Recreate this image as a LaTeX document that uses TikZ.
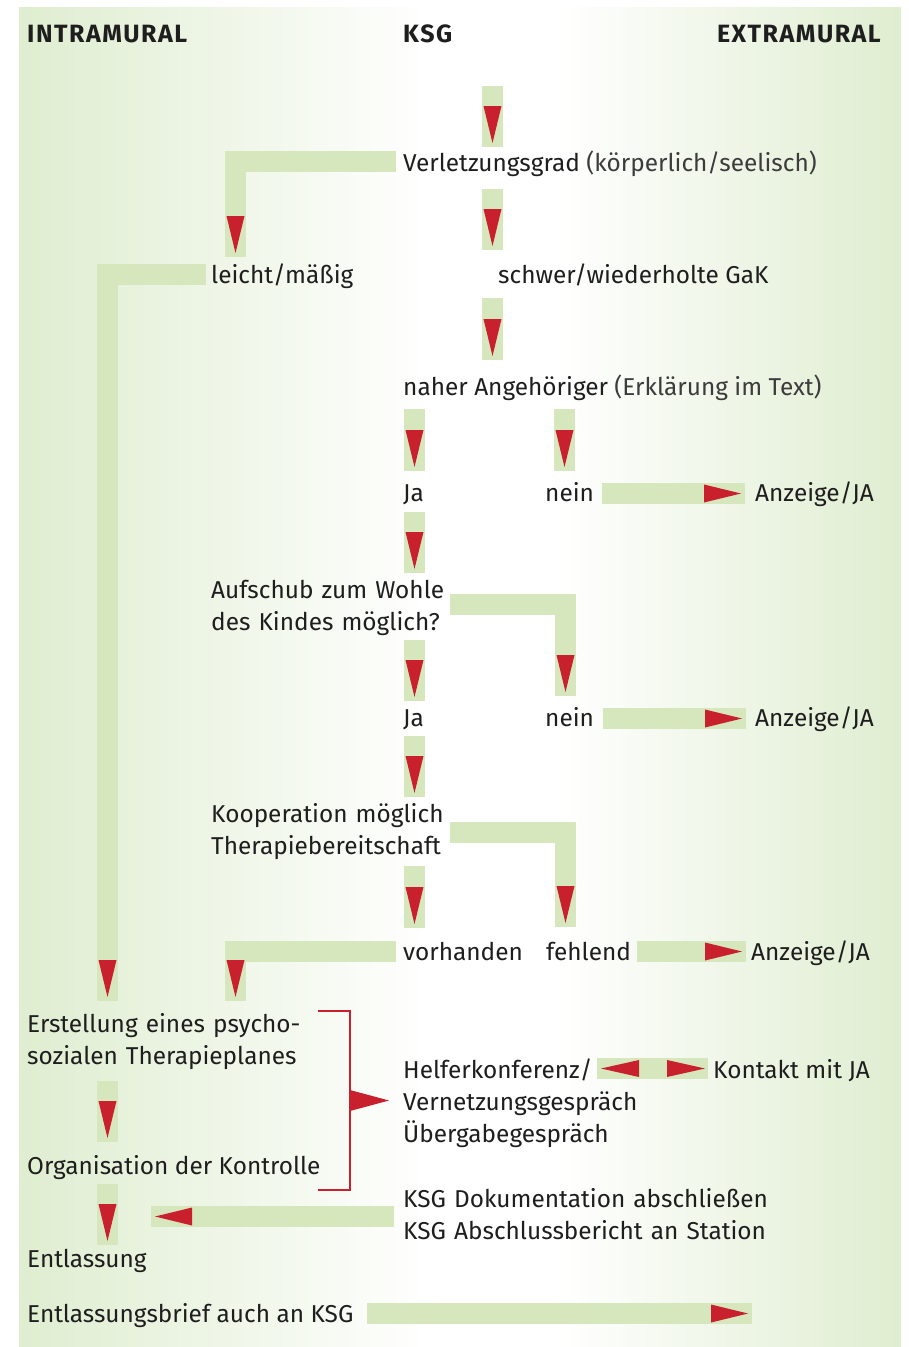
\documentclass[tikz,border=0pt]{standalone}
\usepackage{fontspec}
\setmainfont{Fira Sans}
\definecolor{bgg}{HTML}{DFEDD0}
\definecolor{barc}{HTML}{D6E7BD}
\definecolor{arr}{HTML}{C8202D}
\definecolor{txt}{HTML}{1E1E1E}
\definecolor{lt}{HTML}{3C3C3C}
\tikzset{
 lbl/.style={anchor=base west, inner sep=0pt, text=txt, font=\fontsize{24.4}{32}\selectfont},
 ml/.style={lbl, text width=500pt, align=left},
 hdr/.style={anchor=base west, inner sep=0pt, text=txt, font=\bfseries\fontsize{25}{30}\selectfont\addfontfeature{LetterSpace=6}},
 bar/.style={fill=barc},
 tipf/.style={fill=arr},
 brk/.style={draw=arr, line width=2pt},
}
% vertical bar with downward tip: name, xleft, ytop, ybot
\newcommand\vd[4]{%
 \fill[bar] (#2,#3) rectangle (#2+21,#4);
 \fill[tipf] (#2+1.5,#4-41) -- (#2+19.5,#4-41) -- (#2+10.5,#4-4) -- cycle;
 \coordinate (#1) at (#2+10.5,#4);}
% horizontal bar with right tip: name, xleft, xright, ytop
\newcommand\hr[4]{%
 \fill[bar] (#2,#4) rectangle (#3,#4+21);
 \fill[tipf] (#3-41,#4+1.5) -- (#3-41,#4+19.5) -- (#3-4,#4+10.5) -- cycle;
 \coordinate (#1) at (#3,#4+10.5);}
% horizontal bar with left tip
\newcommand\hl[4]{%
 \fill[bar] (#2,#4) rectangle (#3,#4+21);
 \fill[tipf] (#2+41,#4+1.5) -- (#2+41,#4+19.5) -- (#2+4,#4+10.5) -- cycle;
 \coordinate (#1) at (#2,#4+10.5);}
\begin{document}
\begin{tikzpicture}[x=1pt,y=-1pt]
\useasboundingbox (0,0) rectangle (908,1347);
% background
\shade[left color=bgg, right color=white] (19,7) rectangle (430,1346);
\fill[white] (429,7) rectangle (561,1346);
\shade[left color=white, right color=bgg] (560,7) rectangle (901,1346);
% headers
\node[hdr] (intra) at (27,42) {INTRAMURAL};
\node[hdr] (ksg) at (403,42) {KSG};
\node[hdr, anchor=base east] (extra) at (881,42) {EXTRAMURAL};
% bars
\vd{a1}{482}{86}{147}
\vd{a2}{482}{189}{250}
\vd{a3}{482}{298}{360}
\fill[bar] (225,151) rectangle (396,172); \vd{a4}{225}{151}{257}
\fill[bar] (97,264) rectangle (206,285); \vd{a5}{97}{264}{1001}
\vd{a6}{404}{409}{471}
\vd{a7}{554}{409}{471}
\hr{a8}{602}{745}{483}
\vd{a9}{404}{512}{573}
\fill[bar] (450,594) rectangle (576,615); \vd{a10}{555}{594}{696}
\vd{a11}{404}{640}{701}
\hr{a12}{603}{746}{708}
\vd{a13}{404}{736}{797}
\fill[bar] (450,822) rectangle (576,843); \vd{a14}{555}{822}{927}
\vd{a15}{404}{866}{928}
\fill[bar] (225,941) rectangle (396,962); \vd{a16}{225}{941}{1001}
\hr{a17}{637}{746}{941}
\vd{a18}{97}{1081}{1142}
\vd{a19}{97}{1184}{1245}
\hl{a20}{151}{394}{1206}
\fill[bar] (597,1058) rectangle (708,1079);
\fill[tipf] (639,1060) -- (639,1077) -- (601,1068.5) -- cycle;
\fill[tipf] (667,1060) -- (667,1077) -- (705,1068.5) -- cycle;
\hr{a22}{367}{752}{1303}
% bracket
\draw[brk] (318,1011) -- (350,1011) -- (350,1190) -- (318,1190);
\fill[tipf] (350,1090) -- (350,1111) -- (389,1100.5) -- cycle;
% texts
\node[lbl] (verl) at (403,171) {Verletzungsgrad {\color{lt}(körperlich/seelisch)}};
\node[lbl] (leicht) at (211,283) {leicht/mäßig};
\node[lbl] (schwer) at (498,283) {schwer/wiederholte GaK};
\node[lbl] (naher) at (403,395) {naher Angehöriger {\color{lt}(Erklärung im Text)}};
\node[lbl] (ja1) at (403,501) {Ja};
\node[lbl] (nein1) at (545,501) {nein};
\node[lbl] (anz1) at (755,501) {Anzeige/JA};
\node[ml] (aufschub) at (211,598) {Aufschub zum Wohle\\des Kindes möglich?};
\node[lbl] (ja2) at (403,726) {Ja};
\node[lbl] (nein2) at (545,726) {nein};
\node[lbl] (anz2) at (755,726) {Anzeige/JA};
\node[ml] (koop) at (211,822) {Kooperation möglich\\Therapiebereitschaft};
\node[lbl] (vorh) at (403,960) {vorhanden};
\node[lbl] (fehl) at (546,960) {fehlend};
\node[lbl] (anz3) at (751,960) {Anzeige/JA};
\node[ml] (erst) at (27,1032) {Erstellung eines psycho-\\sozialen Therapieplanes};
\node[ml] (helfer) at (403,1078) {Helferkonferenz/\\Vernetzungsgespräch\\Übergabegespräch};
\node[lbl] (kontakt) at (713,1078) {Kontakt mit JA};
\node[lbl] (orga) at (27,1174) {Organisation der Kontrolle};
\node[ml] (doku) at (403,1207) {KSG Dokumentation abschließen\\KSG Abschlussbericht an Station};
\node[lbl] (entl) at (27,1267) {Entlassung};
\node[lbl] (brief) at (27,1322) {Entlassungsbrief auch an KSG};
\end{tikzpicture}
\end{document}
